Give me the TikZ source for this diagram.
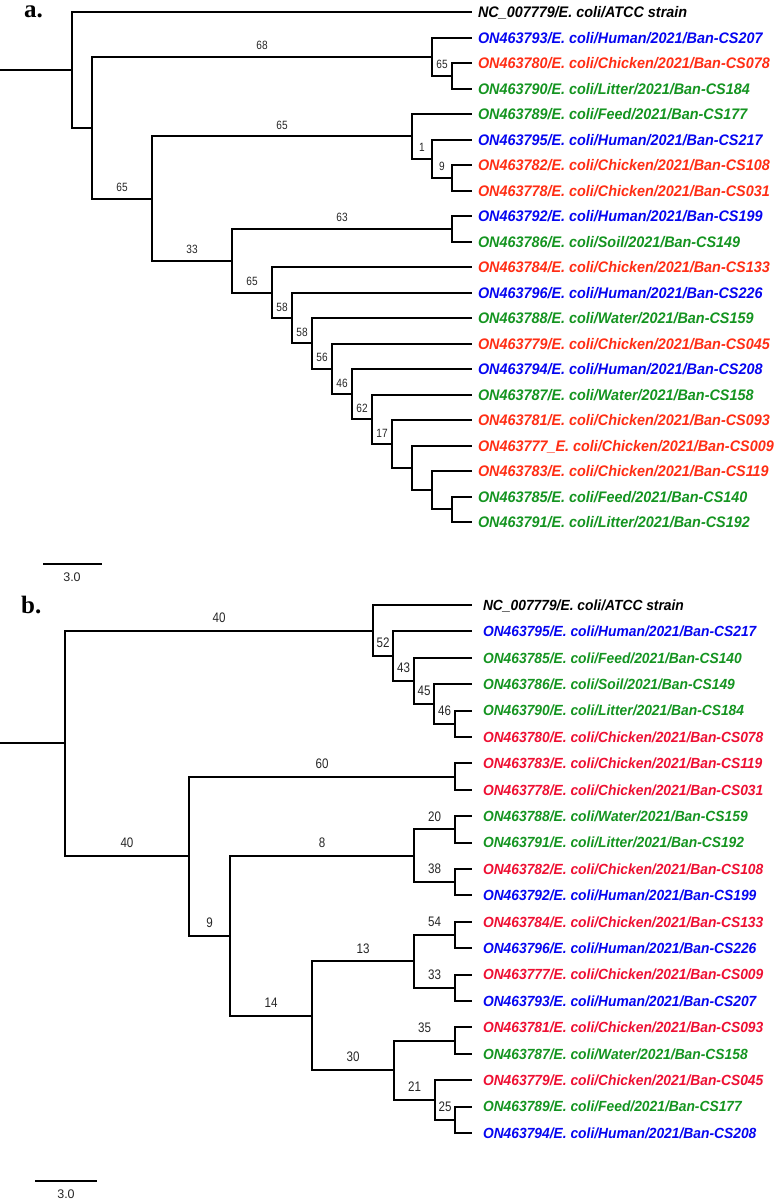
\documentclass[tikz,border=0pt]{standalone}
\usepackage{fontspec}
\setmainfont{Liberation Sans}
\newfontfamily\tipfont[FakeStretch=0.94]{Liberation Sans}
\newfontfamily\bootfont[FakeStretch=0.84]{Liberation Sans}
\newfontfamily\panelfont{Liberation Serif}

\definecolor{hostblue}{RGB}{5,5,240}
\definecolor{hostredA}{RGB}{255,45,20}
\definecolor{hostredB}{RGB}{238,15,50}
\definecolor{hostgreen}{RGB}{20,148,32}

\tikzset{
  treeline/.style={line width=2pt, line join=miter, line cap=butt},
  tipA/.style={anchor=west, inner xsep=6pt, inner ysep=0pt, outer sep=0pt,
    text height=11pt, text depth=0pt,
    font=\tipfont\bfseries\itshape\fontsize{15.3}{16}\selectfont},
  tipB/.style={tipA, inner xsep=11pt, text height=10.5pt,
    font=\tipfont\bfseries\itshape\fontsize{14.7}{15}\selectfont},
  bootbase/.style={pos=0.75, inner sep=0pt, text=black!85},
  bootA/.style={bootbase, above=5.8pt, font=\bootfont\fontsize{12}{12}\selectfont},
  bootB/.style={bootbase, above=7.2pt, font=\bootfont\fontsize{13.8}{14}\selectfont},
  panel/.style={anchor=base west, inner sep=0pt,
    font=\panelfont\bfseries\fontsize{25}{25}\selectfont},
  scalelbl/.style={inner sep=0pt, text=black!85, font=\fontsize{12.5}{13}\selectfont},
}

\begin{document}
\begin{tikzpicture}[x=1pt, y=-1pt]

  %% ════ 图 a：叶标签（行距 25.5）════
  \foreach \i/\col/\txt in {%
      0/black/{NC\_007779/E. coli/ATCC strain},
      1/hostblue/{ON463793/E. coli/Human/2021/Ban-CS207},
      2/hostredA/{ON463780/E. coli/Chicken/2021/Ban-CS078},
      3/hostgreen/{ON463790/E. coli/Litter/2021/Ban-CS184},
      4/hostgreen/{ON463789/E. coli/Feed/2021/Ban-CS177},
      5/hostblue/{ON463795/E. coli/Human/2021/Ban-CS217},
      6/hostredA/{ON463782/E. coli/Chicken/2021/Ban-CS108},
      7/hostredA/{ON463778/E. coli/Chicken/2021/Ban-CS031},
      8/hostblue/{ON463792/E. coli/Human/2021/Ban-CS199},
      9/hostgreen/{ON463786/E. coli/Soil/2021/Ban-CS149},
      10/hostredA/{ON463784/E. coli/Chicken/2021/Ban-CS133},
      11/hostblue/{ON463796/E. coli/Human/2021/Ban-CS226},
      12/hostgreen/{ON463788/E. coli/Water/2021/Ban-CS159},
      13/hostredA/{ON463779/E. coli/Chicken/2021/Ban-CS045},
      14/hostblue/{ON463794/E. coli/Human/2021/Ban-CS208},
      15/hostgreen/{ON463787/E. coli/Water/2021/Ban-CS158},
      16/hostredA/{ON463781/E. coli/Chicken/2021/Ban-CS093},
      17/hostredA/{ON463777\_E. coli/Chicken/2021/Ban-CS009},
      18/hostredA/{ON463783/E. coli/Chicken/2021/Ban-CS119},
      19/hostgreen/{ON463785/E. coli/Feed/2021/Ban-CS140},
      20/hostgreen/{ON463791/E. coli/Litter/2021/Ban-CS192}}{
    \node[tipA, text=\col] (a\i) at (472,{12+25.5*\i}) {\txt};
  }

  %% ════ 图 a：内部结点（y 取两子的中点）════
  \coordinate (aRoot) at (0,69.8);
  \coordinate (aR)   at (72,69.8);
  \coordinate (aN1)  at (92,127.5);
  \coordinate (aN2)  at (432,56.6);
  \coordinate (aN4)  at (452,75.8);
  \coordinate (aN3)  at (152,198.5);
  \coordinate (aN5)  at (412,136.3);
  \coordinate (aN7)  at (432,158.6);
  \coordinate (aN8)  at (452,177.8);
  \coordinate (aN6)  at (232,260.6);
  \coordinate (aN9)  at (452,228.8);
  \coordinate (aN10) at (272,292.5);
  \coordinate (aN11) at (292,318.0);
  \coordinate (aN12) at (312,343.4);
  \coordinate (aN13) at (332,368.8);
  \coordinate (aN14) at (352,394.1);
  \coordinate (aN15) at (372,419.2);
  \coordinate (aN16) at (392,443.9);
  \coordinate (aN17) at (412,467.8);
  \coordinate (aN18) at (432,490.1);
  \coordinate (aN19) at (452,509.3);

  %% ════ 图 a：枝 ════
  \draw[treeline] (aRoot) -- (aR);
  \draw[treeline] (aN1) |- node[bootA] {68} (aN2);
  \draw[treeline] (aN1) |- node[bootA] {65} (aN3);
  \draw[treeline] (aN2) |- node[bootA] {65} (aN4);
  \draw[treeline] (aN3) |- node[bootA] {65} (aN5);
  \draw[treeline] (aN3) |- node[bootA] {33} (aN6);
  \draw[treeline] (aN5) |- node[bootA] {1} (aN7);
  \draw[treeline] (aN7) |- node[bootA] {9} (aN8);
  \draw[treeline] (aN6) |- node[bootA] {63} (aN9);
  \draw[treeline] (aN6) |- node[bootA] {65} (aN10);
  \draw[treeline] (aN10) |- node[bootA] {58} (aN11);
  \draw[treeline] (aN11) |- node[bootA] {58} (aN12);
  \draw[treeline] (aN12) |- node[bootA] {56} (aN13);
  \draw[treeline] (aN13) |- node[bootA] {46} (aN14);
  \draw[treeline] (aN14) |- node[bootA] {62} (aN15);
  \draw[treeline] (aN15) |- node[bootA] {17} (aN16);
  % 无支持值的枝
  \foreach \p/\c in {aR/a0.west, aR/aN1, aN2/a1.west, aN4/a2.west, aN4/a3.west,
      aN5/a4.west, aN7/a5.west, aN8/a6.west, aN8/a7.west, aN9/a8.west, aN9/a9.west,
      aN10/a10.west, aN11/a11.west, aN12/a12.west, aN13/a13.west, aN14/a14.west,
      aN15/a15.west, aN16/a16.west, aN16/aN17, aN17/a17.west, aN17/aN18,
      aN18/a18.west, aN18/aN19, aN19/a19.west, aN19/a20.west}{
    \draw[treeline] (\p) |- (\c);
  }

  %% ════ 图 a：比例尺 ════
  \draw[treeline] (43,564) -- (102,564);
  \node[scalelbl] (aScale) at (72,577) {3.0};
  \node[panel] (aPanel) at (24,17.5) {a.};

  %% ════ 图 b：叶标签（行距 26.4）════
  \foreach \i/\col/\txt in {%
      0/black/{NC\_007779/E. coli/ATCC strain},
      1/hostblue/{ON463795/E. coli/Human/2021/Ban-CS217},
      2/hostgreen/{ON463785/E. coli/Feed/2021/Ban-CS140},
      3/hostgreen/{ON463786/E. coli/Soil/2021/Ban-CS149},
      4/hostgreen/{ON463790/E. coli/Litter/2021/Ban-CS184},
      5/hostredB/{ON463780/E. coli/Chicken/2021/Ban-CS078},
      6/hostredB/{ON463783/E. coli/Chicken/2021/Ban-CS119},
      7/hostredB/{ON463778/E. coli/Chicken/2021/Ban-CS031},
      8/hostgreen/{ON463788/E. coli/Water/2021/Ban-CS159},
      9/hostgreen/{ON463791/E. coli/Litter/2021/Ban-CS192},
      10/hostredB/{ON463782/E. coli/Chicken/2021/Ban-CS108},
      11/hostblue/{ON463792/E. coli/Human/2021/Ban-CS199},
      12/hostredB/{ON463784/E. coli/Chicken/2021/Ban-CS133},
      13/hostblue/{ON463796/E. coli/Human/2021/Ban-CS226},
      14/hostredB/{ON463777/E. coli/Chicken/2021/Ban-CS009},
      15/hostblue/{ON463793/E. coli/Human/2021/Ban-CS207},
      16/hostredB/{ON463781/E. coli/Chicken/2021/Ban-CS093},
      17/hostgreen/{ON463787/E. coli/Water/2021/Ban-CS158},
      18/hostredB/{ON463779/E. coli/Chicken/2021/Ban-CS045},
      19/hostgreen/{ON463789/E. coli/Feed/2021/Ban-CS177},
      20/hostblue/{ON463794/E. coli/Human/2021/Ban-CS208}}{
    \node[tipB, text=\col] (b\i) at (472,{605+26.4*\i}) {\txt};
  }

  %% ════ 图 b：内部结点 ════
  \coordinate (bRoot) at (0,743.4);
  \coordinate (bR)   at (65,743.4);
  \coordinate (bN1)  at (373,630.6);
  \coordinate (bN2)  at (393,656.2);
  \coordinate (bN3)  at (414,680.9);
  \coordinate (bN4)  at (434,704.0);
  \coordinate (bN5)  at (455,723.8);
  \coordinate (bN6)  at (189,856.2);
  \coordinate (bN7)  at (455,776.6);
  \coordinate (bN8)  at (230,935.8);
  \coordinate (bN9)  at (414,855.8);
  \coordinate (bN10) at (455,829.4);
  \coordinate (bN11) at (455,882.2);
  \coordinate (bN12) at (312,1015.9);
  \coordinate (bN13) at (414,961.4);
  \coordinate (bN14) at (455,935.0);
  \coordinate (bN15) at (455,987.8);
  \coordinate (bN16) at (394,1070.3);
  \coordinate (bN17) at (455,1040.6);
  \coordinate (bN18) at (435,1100.0);
  \coordinate (bN19) at (455,1119.8);

  %% ════ 图 b：枝 ════
  \draw[treeline] (bRoot) -- (bR);
  \draw[treeline] (bR) |- node[bootB] {40} (bN1);
  \draw[treeline] (bR) |- node[bootB] {40} (bN6);
  \draw[treeline] (bN1) |- node[bootB] {52} (bN2);
  \draw[treeline] (bN2) |- node[bootB] {43} (bN3);
  \draw[treeline] (bN3) |- node[bootB] {45} (bN4);
  \draw[treeline] (bN4) |- node[bootB] {46} (bN5);
  \draw[treeline] (bN6) |- node[bootB] {60} (bN7);
  \draw[treeline] (bN6) |- node[bootB] {9} (bN8);
  \draw[treeline] (bN8) |- node[bootB] {8} (bN9);
  \draw[treeline] (bN8) |- node[bootB] {14} (bN12);
  \draw[treeline] (bN9) |- node[bootB] {20} (bN10);
  \draw[treeline] (bN9) |- node[bootB] {38} (bN11);
  \draw[treeline] (bN12) |- node[bootB] {13} (bN13);
  \draw[treeline] (bN12) |- node[bootB] {30} (bN16);
  \draw[treeline] (bN13) |- node[bootB] {54} (bN14);
  \draw[treeline] (bN13) |- node[bootB] {33} (bN15);
  \draw[treeline] (bN16) |- node[bootB] {35} (bN17);
  \draw[treeline] (bN16) |- node[bootB] {21} (bN18);
  \draw[treeline] (bN18) |- node[bootB] {25} (bN19);
  % 无支持值的枝
  \foreach \p/\c in {bN1/b0.west, bN2/b1.west, bN3/b2.west, bN4/b3.west,
      bN5/b4.west, bN5/b5.west, bN7/b6.west, bN7/b7.west, bN10/b8.west,
      bN10/b9.west, bN11/b10.west, bN11/b11.west, bN14/b12.west, bN14/b13.west,
      bN15/b14.west, bN15/b15.west, bN17/b16.west, bN17/b17.west,
      bN18/b18.west, bN19/b19.west, bN19/b20.west}{
    \draw[treeline] (\p) |- (\c);
  }

  %% ════ 图 b：比例尺 ════
  \draw[treeline] (35,1181) -- (97,1181);
  \node[scalelbl] (bScale) at (66,1194) {3.0};
  \node[panel] (bPanel) at (21,613) {b.};

  % 钉死画布
  \pgfresetboundingbox
  \path[use as bounding box] (0,0) rectangle (776,1200);
\end{tikzpicture}
\end{document}
